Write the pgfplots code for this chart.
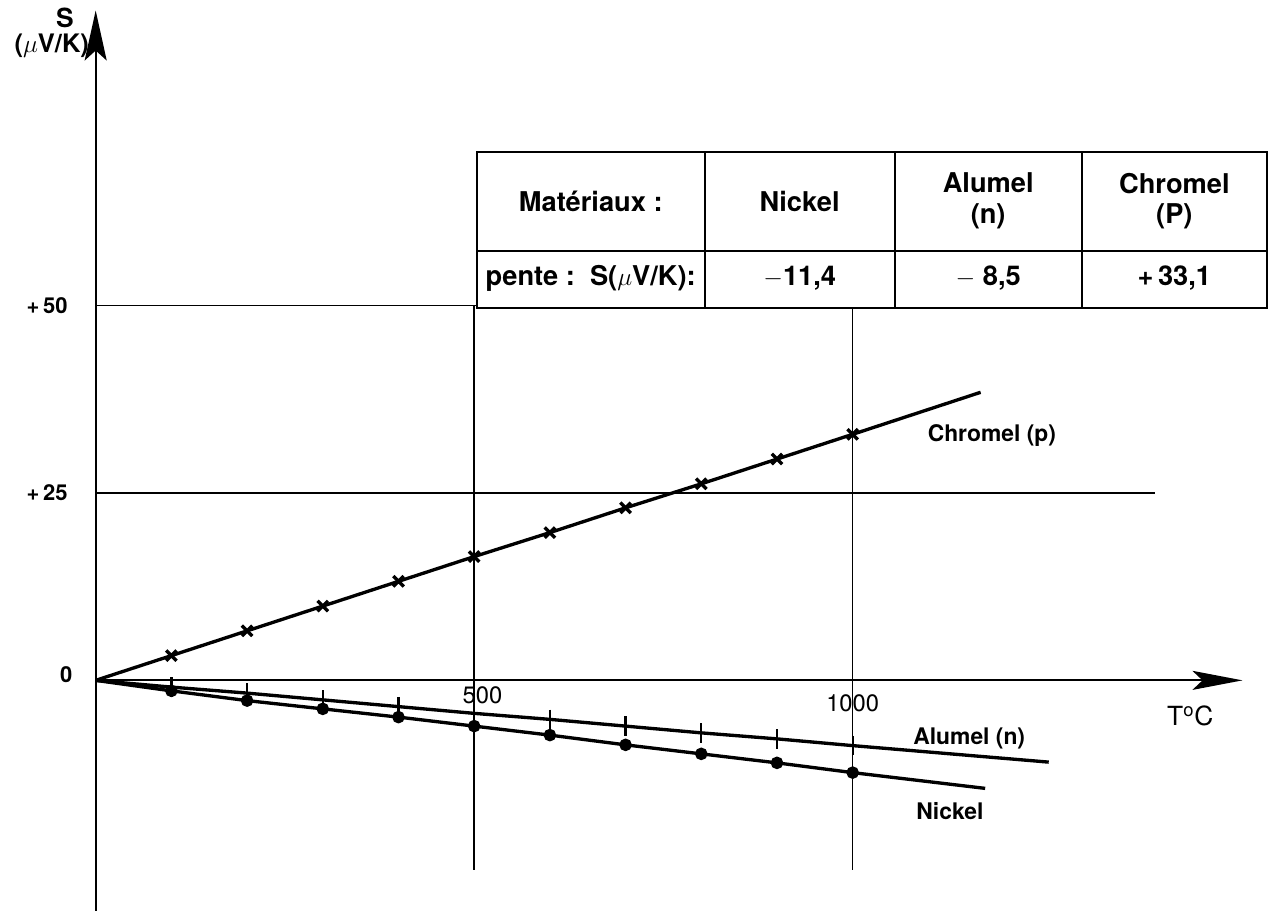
\documentclass[border=0pt]{standalone}
\usepackage{pgfplots}
\pgfplotsset{compat=1.18}
\usepackage{fontspec}
\setmainfont{TeX Gyre Heros}
\usetikzlibrary{arrows.meta}

\begin{document}
\begin{tikzpicture}
\begin{axis}[
  x=0.01514cm, y=0.15cm,
  xmin=-126.4, xmax=1550, ymin=-31.1, ymax=90.7,
  hide axis, clip=false,
]
% bounding box
\path (axis cs:-126.4,-31.1) rectangle (axis cs:1550,90.7);

% guide lines
\draw[line width=0.8pt] (axis cs:0,50) -- (axis cs:504,50);
\draw[line width=0.8pt] (axis cs:0,25) -- (axis cs:1399,25);
\draw[line width=0.8pt] (axis cs:500,50) -- (axis cs:500,-25.3);
\draw[line width=0.8pt] (axis cs:1000,49.7) -- (axis cs:1000,-25.3);

% axes
\draw[line width=1.1pt, -{Stealth[length=1cm,width=0.44cm,inset=0.2cm]}]
  (axis cs:0,-30.7) -- (axis cs:0,89.3);
\draw[line width=1.1pt, -{Stealth[length=1cm,width=0.38cm,inset=0.2cm]}]
  (axis cs:0,0) -- (axis cs:1515,0);

% table
\draw[line width=1.1pt] (axis cs:504,70.4) rectangle (axis cs:1547,49.7);
\draw[line width=1.1pt] (axis cs:504,57.3) -- (axis cs:1547,57.3);
\draw[line width=1.1pt] (axis cs:805,70.4) -- (axis cs:805,49.7);
\draw[line width=1.1pt] (axis cs:1056,70.4) -- (axis cs:1056,49.7);
\draw[line width=1.1pt] (axis cs:1303,70.4) -- (axis cs:1303,49.7);
\begin{scope}[every node/.style={font=\bfseries\fontsize{15.5}{17.5}\selectfont, align=center}]
\node at (axis cs:654,63.9) {Matériaux :};
\node at (axis cs:930,63.9) {Nickel};
\node at (axis cs:1179,63.9) {Alumel\\(n)};
\node at (axis cs:1425,63.9) {Chromel\\(P)};
\node at (axis cs:654,53.6) {pente :\ \ S($\mu$V/K):};
\node at (axis cs:930,53.6) {$-$11,4};
\node at (axis cs:1179,53.6) {$-$ 8,5};
\node at (axis cs:1425,53.6) {+\,33,1};
\end{scope}

% data
\addplot[line width=1.9pt, mark=x, mark size=4.2pt, mark indices={2,...,11}]
  coordinates {(0,0) (100,3.3) (200,6.6) (300,9.9) (400,13.2) (500,16.5)
  (600,19.7) (700,23.0) (800,26.2) (900,29.5) (1000,32.8) (1169,38.4)};
\addplot[line width=1.9pt, mark=|, mark size=5.5pt, mark options={line width=1.3pt}, mark indices={2,...,11}]
  coordinates {(0,0) (100,-0.9) (200,-1.7) (300,-2.6) (400,-3.5) (500,-4.4)
  (600,-5.2) (700,-6.1) (800,-7.0) (900,-7.8) (1000,-8.7) (1259,-10.9)};
\addplot[line width=1.9pt, mark=*, mark size=2.6pt, mark indices={2,...,11}]
  coordinates {(0,0) (100,-1.4) (200,-2.7) (300,-3.8) (400,-4.9) (500,-6.1)
  (600,-7.3) (700,-8.6) (800,-9.8) (900,-11.0) (1000,-12.3) (1175,-14.4)};

% labels
\node[font=\bfseries\fontsize{15}{17}\selectfont] at (axis cs:-40.5,88.3) {S};
\node[font=\bfseries\fontsize{14.5}{16}\selectfont] at (axis cs:-58,84.6) {($\mu$V/K)};
\node[anchor=east, font=\bfseries\fontsize{12.5}{14}\selectfont] at (axis cs:-29,50) {+\,50};
\node[anchor=east, font=\bfseries\fontsize{12.5}{14}\selectfont] at (axis cs:-29,25) {+\,25};
\node[font=\bfseries\fontsize{12.5}{14}\selectfont] at (axis cs:-39,0.7) {0};
\node[font=\fontsize{13.5}{15}\selectfont] at (axis cs:511,-2) {500};
\node[font=\fontsize{13.5}{15}\selectfont] at (axis cs:1000,-3) {1000};
\node[font=\fontsize{15}{17}\selectfont] at (axis cs:1446,-4.7) {T\textsuperscript{o}C};
\node[anchor=west, font=\bfseries\fontsize{13}{15}\selectfont] at (axis cs:1091,32.7) {Chromel (p)};
\node[anchor=west, font=\bfseries\fontsize{13}{15}\selectfont] at (axis cs:1072,-7.8) {Alumel (n)};
\node[anchor=west, font=\bfseries\fontsize{13}{15}\selectfont] at (axis cs:1076,-17.4) {Nickel};
\end{axis}
\end{tikzpicture}
\end{document}
